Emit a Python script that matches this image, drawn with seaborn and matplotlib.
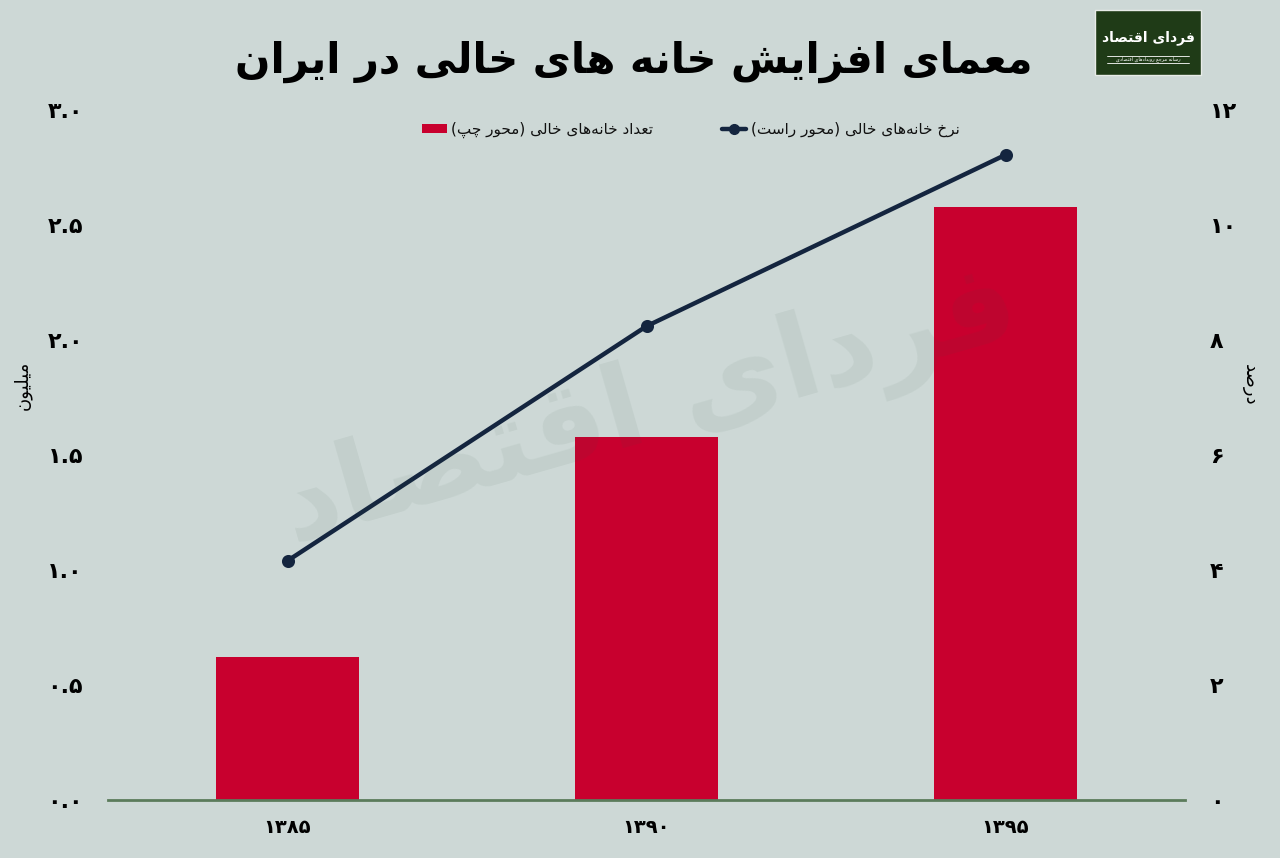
import matplotlib
matplotlib.use("Agg")
import matplotlib.pyplot as plt
import seaborn as sns
import pandas as pd
from matplotlib.patches import Patch, Rectangle
from matplotlib.lines import Line2D

# ---------------- data ----------------
title = "معمای افزایش خانه های خالی در ایران"
years = ["۱۳۸۵", "۱۳۹۰", "۱۳۹۵"]
vacant_count = [0.62, 1.58, 2.58]      # million (left axis)
vacant_rate = [4.16, 8.24, 11.22]      # percent (right axis)
left_ticks = [0.0, 0.5, 1.0, 1.5, 2.0, 2.5, 3.0]
left_labels = ["۰.۰", "۰.۵", "۱.۰", "۱.۵", "۲.۰", "۲.۵", "۳.۰"]
right_ticks = [0, 2, 4, 6, 8, 10, 12]
right_labels = ["۰", "۲", "۴", "۶", "۸", "۱۰", "۱۲"]
count_label = "تعداد خانه‌های خالی (محور چپ)"
rate_label = "نرخ خانه‌های خالی (محور راست)"
left_axis_title = "میلیون"
right_axis_title = "درصد"
brand = "فردای اقتصاد"
brand_sub = "رسانه مرجع رویدادهای اقتصادی"

# ---------------- minimal Arabic/Persian shaping for display ----------------
_F = {  # isolated, final, initial, medial
    "ا": ("\uFE8D", "\uFE8E", None, None),
    "آ": ("\uFE81", "\uFE82", None, None),
    "ب": ("\uFE8F", "\uFE90", "\uFE91", "\uFE92"),
    "پ": ("\uFB56", "\uFB57", "\uFB58", "\uFB59"),
    "ت": ("\uFE95", "\uFE96", "\uFE97", "\uFE98"),
    "ث": ("\uFE99", "\uFE9A", "\uFE9B", "\uFE9C"),
    "ج": ("\uFE9D", "\uFE9E", "\uFE9F", "\uFEA0"),
    "چ": ("\uFB7A", "\uFB7B", "\uFB7C", "\uFB7D"),
    "ح": ("\uFEA1", "\uFEA2", "\uFEA3", "\uFEA4"),
    "خ": ("\uFEA5", "\uFEA6", "\uFEA7", "\uFEA8"),
    "د": ("\uFEA9", "\uFEAA", None, None),
    "ذ": ("\uFEAB", "\uFEAC", None, None),
    "ر": ("\uFEAD", "\uFEAE", None, None),
    "ز": ("\uFEAF", "\uFEB0", None, None),
    "ژ": ("\uFB8A", "\uFB8B", None, None),
    "س": ("\uFEB1", "\uFEB2", "\uFEB3", "\uFEB4"),
    "ش": ("\uFEB5", "\uFEB6", "\uFEB7", "\uFEB8"),
    "ص": ("\uFEB9", "\uFEBA", "\uFEBB", "\uFEBC"),
    "ض": ("\uFEBD", "\uFEBE", "\uFEBF", "\uFEC0"),
    "ط": ("\uFEC1", "\uFEC2", "\uFEC3", "\uFEC4"),
    "ظ": ("\uFEC5", "\uFEC6", "\uFEC7", "\uFEC8"),
    "ع": ("\uFEC9", "\uFECA", "\uFECB", "\uFECC"),
    "غ": ("\uFECD", "\uFECE", "\uFECF", "\uFED0"),
    "ف": ("\uFED1", "\uFED2", "\uFED3", "\uFED4"),
    "ق": ("\uFED5", "\uFED6", "\uFED7", "\uFED8"),
    "ک": ("\uFB8E", "\uFB8F", "\uFB90", "\uFB91"),
    "گ": ("\uFB92", "\uFB93", "\uFB94", "\uFB95"),
    "ل": ("\uFEDD", "\uFEDE", "\uFEDF", "\uFEE0"),
    "م": ("\uFEE1", "\uFEE2", "\uFEE3", "\uFEE4"),
    "ن": ("\uFEE5", "\uFEE6", "\uFEE7", "\uFEE8"),
    "و": ("\uFEED", "\uFEEE", None, None),
    "ه": ("\uFEE9", "\uFEEA", "\uFEEB", "\uFEEC"),
    "ی": ("\uFBFC", "\uFBFD", "\uFBFE", "\uFBFF"),
}
_MIRROR = {"(": ")", ")": "("}


def _is_ltr(c):
    return c.isdigit() or ("a" <= c.lower() <= "z")


def rtl(s):
    out = []
    for i, c in enumerate(s):
        if c not in _F:
            out.append(c)
            continue
        prev = s[i - 1] if i > 0 else None
        nxt = s[i + 1] if i + 1 < len(s) else None
        jp = prev in _F and _F[prev][2] is not None
        jn = _F[c][2] is not None and nxt in _F
        f = _F[c]
        out.append(f[3] if (jp and jn) else f[1] if jp else f[2] if jn else f[0])
    shaped = "".join(ch for ch in out if ch != "\u200c")
    runs, cur, cur_ltr = [], "", None
    for ch in shaped:
        l = _is_ltr(ch)
        if cur and l != cur_ltr:
            runs.append((cur, cur_ltr))
            cur = ""
        cur += ch
        cur_ltr = l
    if cur:
        runs.append((cur, cur_ltr))
    vis = []
    for text, l in reversed(runs):
        vis.append(text if l else "".join(_MIRROR.get(ch, ch) for ch in reversed(text)))
    return "".join(vis)


# ---------------- style ----------------
bg = "#cdd8d6"
red = "#c8002e"
navy = "#14253f"
sns.set_style("white")
plt.rcParams["font.family"] = ["DejaVu Sans"]
plt.rcParams["text.color"] = "#111111"

df = pd.DataFrame({"year": years, "count": vacant_count, "rate": vacant_rate})

fig = plt.figure(figsize=(12.8, 8.58), dpi=100, facecolor=bg)
ax = fig.add_axes([108 / 1280, 58 / 858, 1077 / 1280, 690 / 858])
ax.set_facecolor("none")

sns.barplot(data=df, x="year", y="count", ax=ax, color=red, width=0.4,
            saturation=1, zorder=2, edgecolor="none", linewidth=0)

ax2 = ax.twinx()
sns.pointplot(data=df, x="year", y="rate", ax=ax2, color=navy, markers="o",
              errorbar=None, linewidth=3.2, markersize=7, zorder=3)

ax.set_xlim(-0.5, 2.5)
ax.set_ylim(0, 3.0)
ax2.set_ylim(0, 12)
ax.set_yticks(left_ticks, left_labels)
ax2.set_yticks(right_ticks, right_labels)
ax.set_xlabel("")
ax.set_ylabel("")
ax2.set_ylabel("")
ax2.set_xlabel("")

for a in (ax, ax2):
    for s in a.spines.values():
        s.set_visible(False)
ax.spines["bottom"].set_visible(True)
ax.spines["bottom"].set_color("#5b7b5b")
ax.spines["bottom"].set_linewidth(2)

ax.tick_params(axis="y", length=0, pad=18, labelsize=16, labelcolor="black")
ax2.tick_params(axis="y", length=0, pad=18, labelsize=16, labelcolor="black")
ax.tick_params(axis="x", length=0, pad=13, labelsize=14, labelcolor="black")
for lab in ax.get_yticklabels() + ax2.get_yticklabels() + ax.get_xticklabels():
    lab.set_fontweight("bold")

# axis titles
fig.text(22 / 1280, 1 - 385 / 858, rtl(left_axis_title), rotation=90,
         ha="center", va="center", fontsize=13, color="black")
fig.text(1250 / 1280, 1 - 385 / 858, rtl(right_axis_title), rotation=-90,
         ha="center", va="center", fontsize=13, color="black")

# title
fig.text(634 / 1280, 1 - 62 / 858, rtl(title), ha="center", va="center",
         fontsize=30, fontweight="bold", color="black")

# legend
handles = [Patch(facecolor=red, edgecolor="none"),
           Line2D([], [], color=navy, lw=3.2, marker="o", ms=7)]
ax.legend(handles=handles, labels=[rtl(count_label), rtl(rate_label)], ncol=2,
          loc="center", bbox_to_anchor=(691 / 1280, 1 - 130 / 858),
          bbox_transform=fig.transFigure, frameon=False, fontsize=11,
          labelcolor="#111111",
          handlelength=1.6, handleheight=0.6, columnspacing=4.5, handletextpad=0.3)

# watermark
fig.text(650 / 1280, 1 - 410 / 858, rtl(brand), rotation=16, ha="center",
         va="center", fontsize=82, fontweight="bold", color="#3c5a4a",
         alpha=0.07, zorder=10)

# logo
fig.add_artist(Rectangle((1095 / 1280, 1 - 75 / 858), 106 / 1280, 65 / 858,
                         transform=fig.transFigure, facecolor="#1f3b17",
                         edgecolor="#e8ece8", linewidth=1))
fig.text(1148 / 1280, 1 - 38 / 858, rtl(brand), ha="center", va="center",
         fontsize=10, fontweight="bold", color="white")
fig.add_artist(Line2D([1107 / 1280, 1189 / 1280], [1 - 56 / 858, 1 - 56 / 858],
                      transform=fig.transFigure, color="white", lw=0.6))
fig.add_artist(Line2D([1107 / 1280, 1189 / 1280], [1 - 63 / 858, 1 - 63 / 858],
                      transform=fig.transFigure, color="white", lw=0.6))
fig.text(1148 / 1280, 1 - 59.5 / 858, rtl(brand_sub), ha="center", va="center",
         fontsize=3.5, color="white")

fig.savefig("out.png", dpi=100, facecolor=bg)
